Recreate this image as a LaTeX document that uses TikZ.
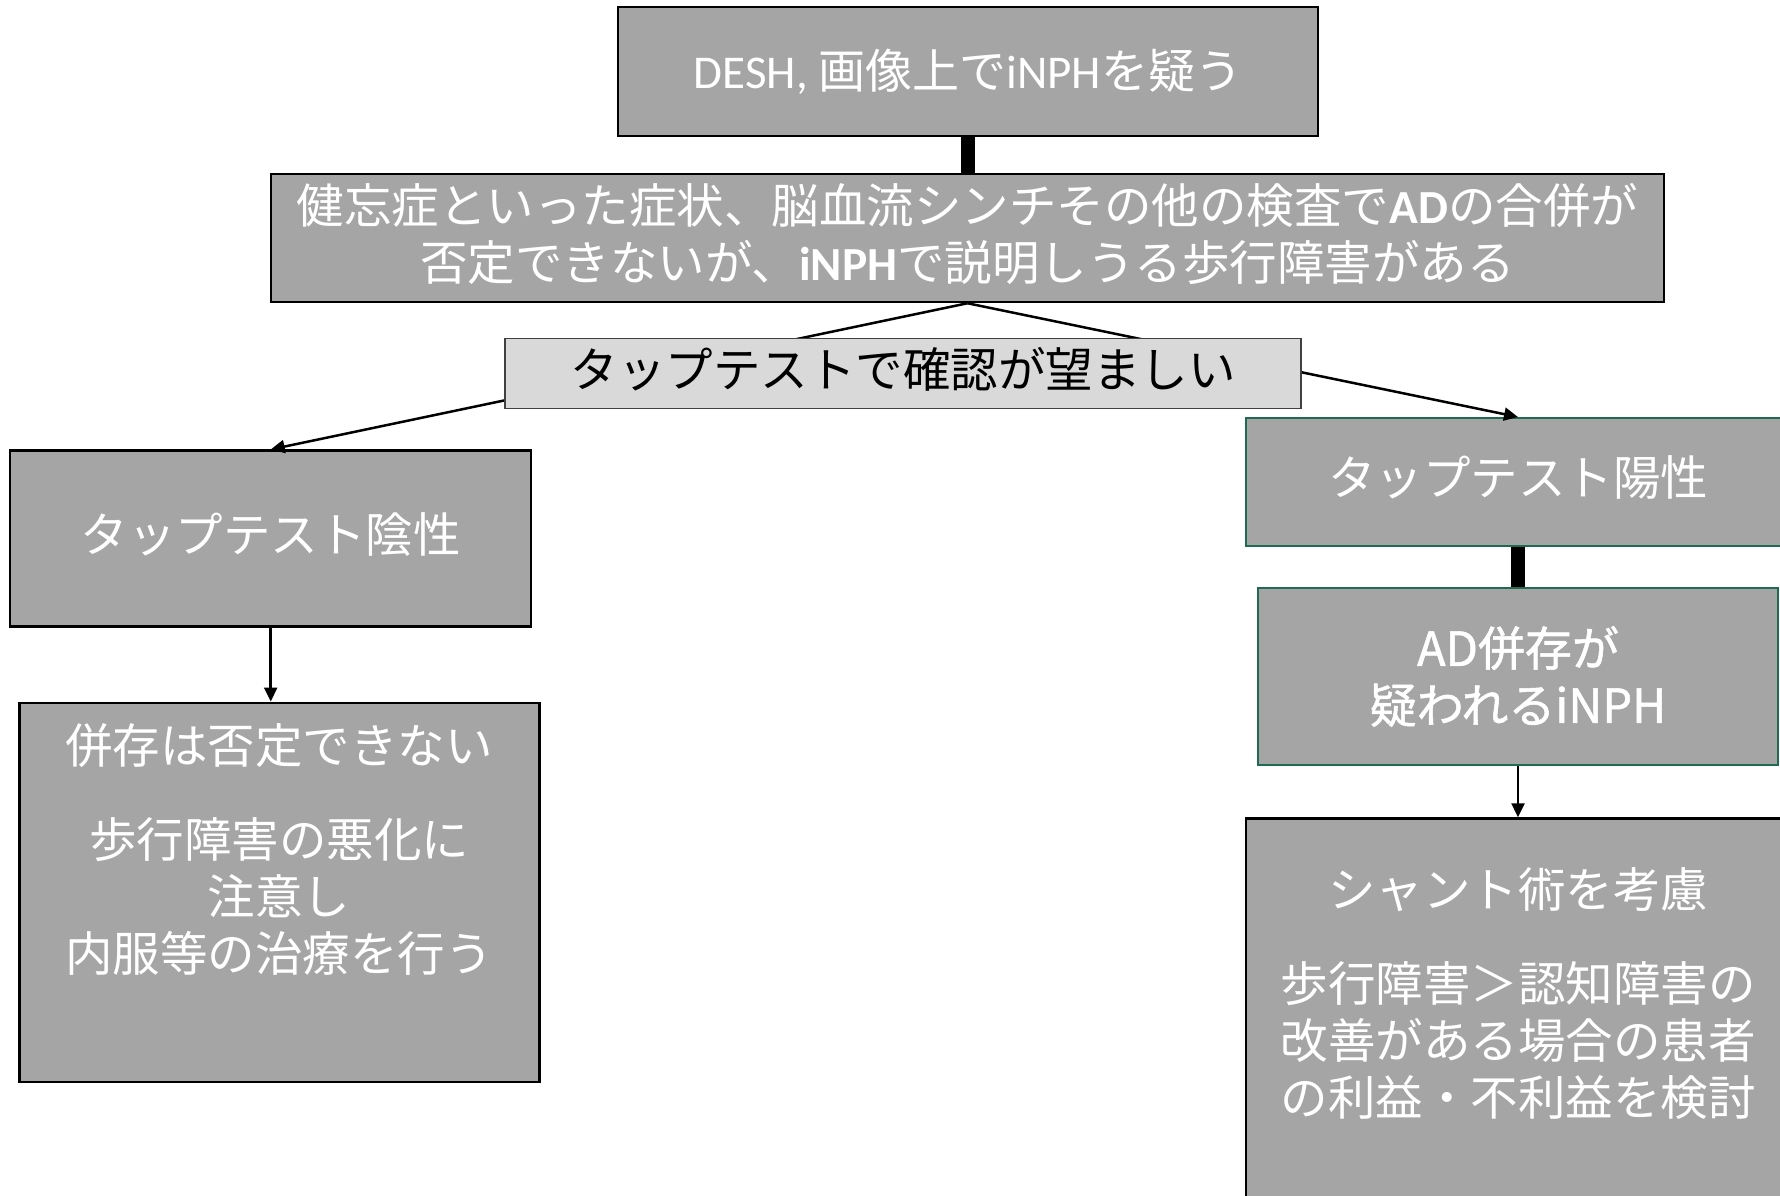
\documentclass[tikz,border=0pt]{standalone}
\usepackage{fontspec}
\setmainfont{Noto Sans CJK JP}
\newfontfamily\calib{Carlito}
\newfontfamily\jpmed[FakeBold=1.2]{Noto Sans CJK JP}
\usetikzlibrary{arrows.meta}
\definecolor{boxgray}{HTML}{A5A5A5}
\definecolor{palegray}{HTML}{D9D9D9}
\definecolor{tealgreen}{HTML}{1F6B52}
\begin{document}
\begin{tikzpicture}[x=1pt,y=-1pt,
  gbox/.style={draw=black, line width=2.5pt, fill=boxgray, text=white, inner sep=0pt, align=center,
    font=\fontsize{47}{57}\selectfont},
  tbox/.style={gbox, draw=tealgreen, line width=2pt},
  lbox/.style={draw=black!75, line width=1.5pt, fill=palegray, text=black, inner sep=0pt, align=center,
    font=\fontsize{47}{57}\selectfont},
  txt/.style={text=white, inner sep=0pt, align=center, font=\fontsize{47.5}{57}\selectfont},
  arr/.style={line width=2.5pt, -{Triangle[length=14pt,width=13pt]}},
  thick/.style={line width=14pt}]
\useasboundingbox (0,0) rectangle (1780,1196);
\clip (0,0) rectangle (1780,1196);

% boxes
\node[gbox, minimum width=700pt, minimum height=129pt] (top) at (968,71.5)
  {{\calib DESH,} 画像上で{\calib iNPH}を疑う};
\node[gbox, minimum width=1393pt, minimum height=128pt] (b2) at (967.5,238) {};
\node[txt, yshift=4.5pt] (b2t) at (b2)
  {健忘症といった症状、脳血流シンチその他の検査で{\calib\bfseries AD}の合併が\\
   否定できないが、{\calib\bfseries iNPH}で説明しうる歩行障害がある};
\node[gbox, minimum width=521pt, minimum height=176pt] (L1) at (270.7,538.7) {};
\node[txt, yshift=4.5pt] (L1t) at (L1) {タップテスト陰性};
\node[gbox, minimum width=520pt, minimum height=379pt] (L2) at (279.3,892.3) {};
\node[txt] (L2t) at (279,849) {併存は否定できない\\[37pt]歩行障害の悪化に\\注意し\\内服等の治療を行う};
\node[tbox, minimum width=544pt, minimum height=128pt] (R1) at (1518,482) {};
\node[txt, yshift=4.5pt] (R1t) at (R1) {タップテスト陽性};
\node[tbox, minimum width=520pt, minimum height=177pt] (R2) at (1518,676.5) {\jpmed AD併存が\\\jpmed 疑われるiNPH};
\node[gbox, minimum width=544pt, minimum height=412pt] (R3) at (1518,1024.5) {};
\node[txt] (R3t) at (1518,994) {シャント術を考慮\\[37pt]歩行障害＞認知障害の\\改善がある場合の患者\\の利益・不利益を検討};

% connectors
\draw[thick] (top.south) -- (top.south |- b2.north);
\draw[arr] (b2.south) -- (L1.north);
\draw[arr] (b2.south) -- (R1.north);
\draw[arr] (L1.south) -- (L1.south |- L2.north);
\draw[thick] (R1.south) -- (R2.north);
\draw[arr] (R2.south) -- (R2.south |- R3.north);

% label box over connectors
\node[lbox, minimum width=796pt, minimum height=70pt] (lab) at (903,373.5) {};
\node[txt, text=black, yshift=4.5pt] (labt) at (lab) {タップテストで確認が望ましい};
\end{tikzpicture}
\end{document}
